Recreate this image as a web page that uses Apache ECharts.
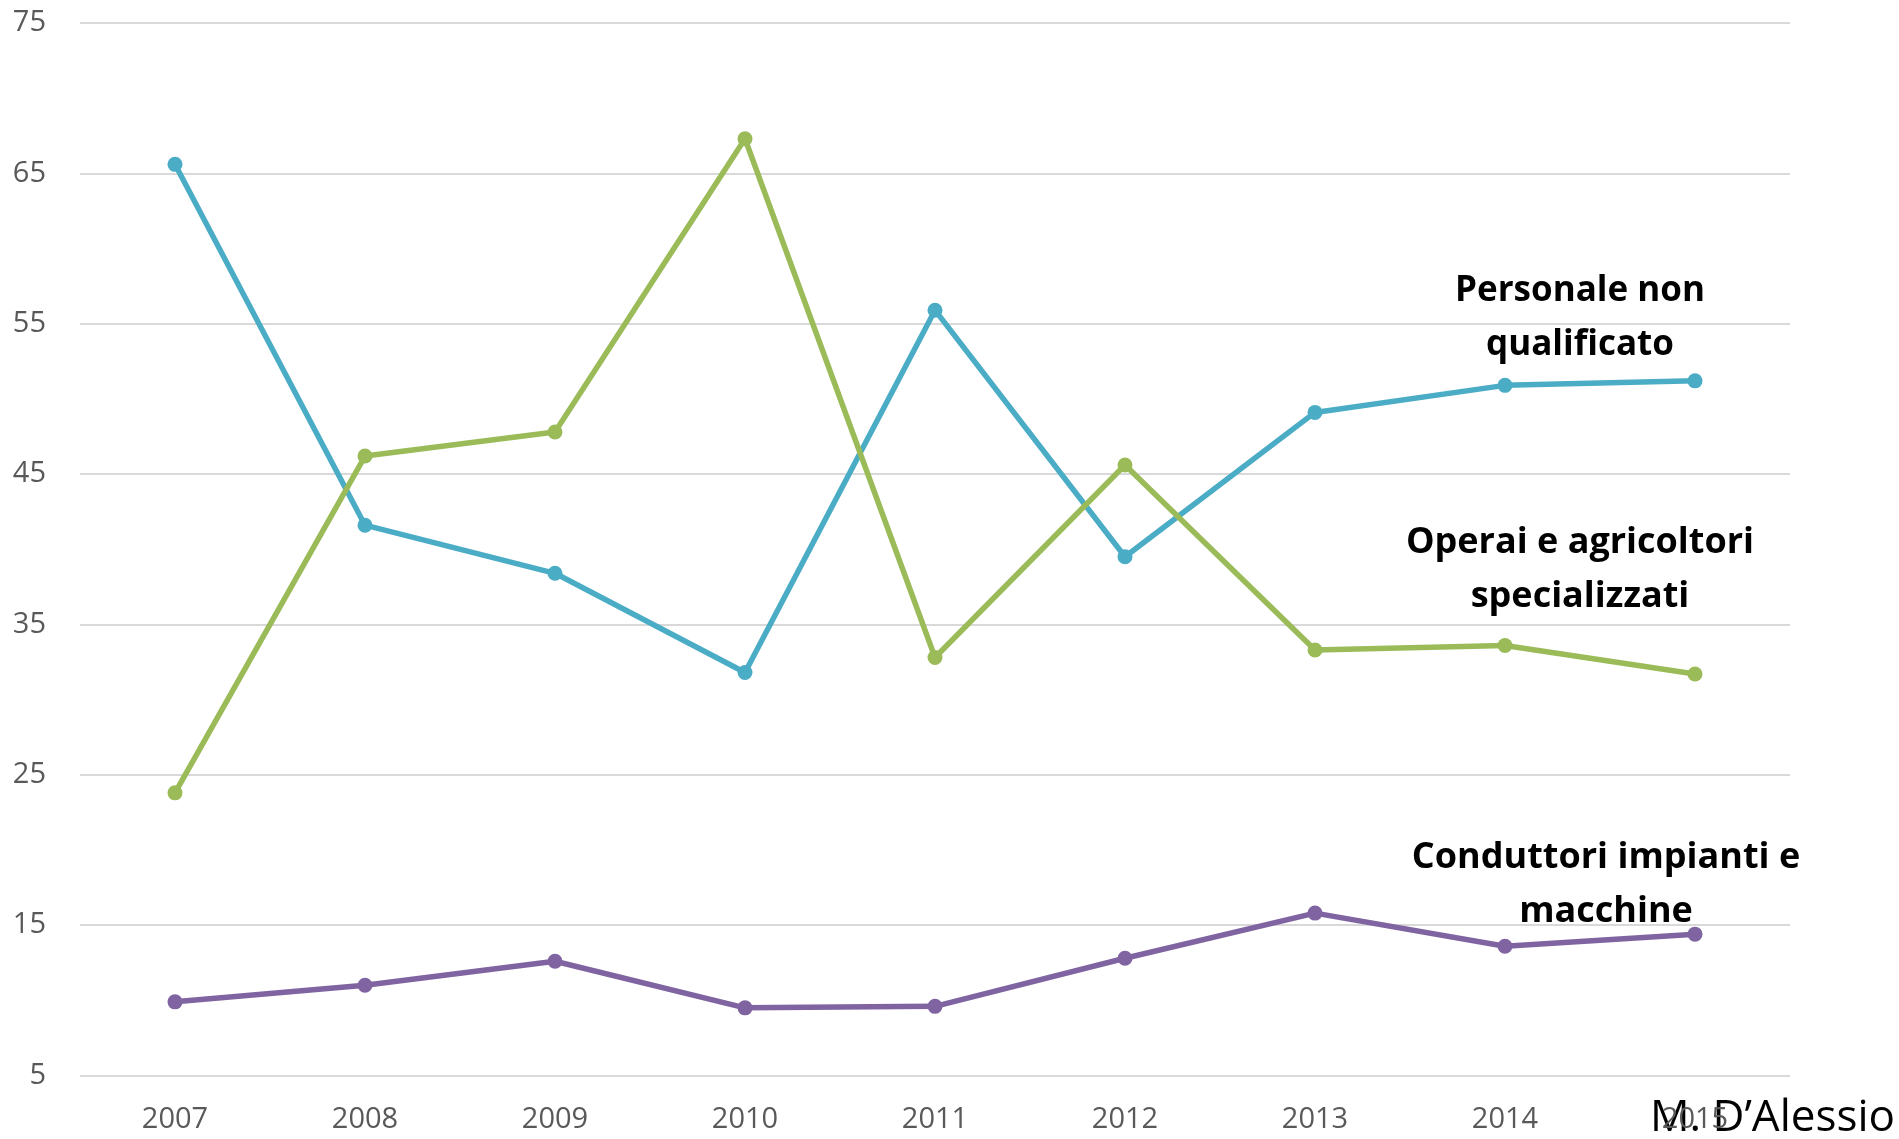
<!DOCTYPE html>
<html>
<head>
<meta charset="utf-8">
<script src="https://cdn.jsdelivr.net/npm/echarts@6/dist/echarts.min.js"></script>
<style>
html,body{margin:0;padding:0;background:#fff;}
#chart{width:1899px;height:1139px;}
</style>
</head>
<body>
<div id="chart"></div>
<script>
const years = ['2007','2008','2009','2010','2011','2012','2013','2014','2015'];
const personaleNonQualificato = [65.6, 41.6, 38.4, 31.8, 55.9, 39.5, 49.1, 50.9, 51.2];
const operaiAgricoltori = [23.8, 46.2, 47.8, 67.3, 32.8, 45.6, 33.3, 33.6, 31.7];
const conduttoriImpianti = [9.9, 11.0, 12.6, 9.5, 9.6, 12.8, 15.8, 13.6, 14.4];
const yTicks = [5, 15, 25, 35, 45, 55, 65, 75];

const chart = echarts.init(document.getElementById('chart'));
const font = '"Open Sans", "Liberation Sans", sans-serif';
function series(name, data, color) {
  return {
    name: name, type: 'line', data: data,
    symbol: 'circle', symbolSize: 15,
    lineStyle: { color: color, width: 5.5 },
    itemStyle: { color: color },
    emphasis: { disabled: true }
  };
}
chart.setOption({
  animation: false,
  backgroundColor: '#ffffff',
  grid: { left: 80, right: 109, top: 23, bottom: 63.5 },
  xAxis: {
    type: 'category', data: years, boundaryGap: true,
    axisLine: { show: false }, axisTick: { show: false },
    axisLabel: { color: '#595959', fontFamily: font, fontSize: 29, margin: 30 }
  },
  yAxis: {
    type: 'value', min: yTicks[0], max: yTicks[yTicks.length - 1], interval: 10,
    axisLine: { show: false }, axisTick: { show: false },
    axisLabel: { color: '#595959', fontFamily: font, fontSize: 29, margin: 34 },
    splitLine: { lineStyle: { color: '#d9d9d9', width: 2 } }
  },
  series: [
    series('Personale non qualificato', personaleNonQualificato, '#4BACC6'),
    series('Operai e agricoltori specializzati', operaiAgricoltori, '#9BBB59'),
    series('Conduttori impianti e macchine', conduttoriImpianti, '#8064A2')
  ],
  graphic: [
    { type: 'text', x: 1580, y: 318, style: { text: 'Personale non\nqualificato', align: 'center', verticalAlign: 'middle', fill: '#000', font: 'bold 35px ' + font, lineHeight: 54 } },
    { type: 'text', x: 1580, y: 570, style: { text: 'Operai e agricoltori\nspecializzati', align: 'center', verticalAlign: 'middle', fill: '#000', font: 'bold 36px ' + font, lineHeight: 54 } },
    { type: 'text', x: 1606, y: 885, style: { text: 'Conduttori impianti e\nmacchine', align: 'center', verticalAlign: 'middle', fill: '#000', font: 'bold 36px ' + font, lineHeight: 54 } },
    { type: 'text', x: 1895, y: 1118, style: { text: 'M. D\u2019Alessio', align: 'right', verticalAlign: 'middle', fill: '#000', font: '44px ' + font } }
  ]
});
</script>
</body>
</html>
